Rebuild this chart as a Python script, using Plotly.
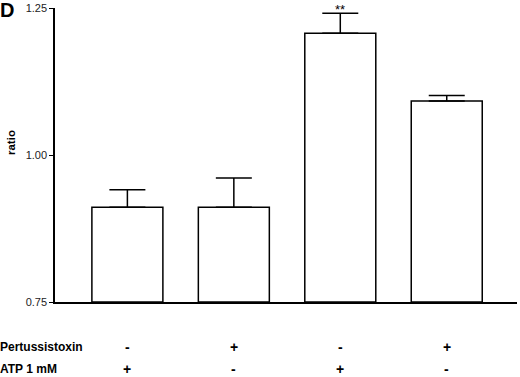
import plotly.graph_objects as go

groups = [0, 1, 2, 3]
ratio_mean = [0.911, 0.911, 1.207, 1.092]
ratio_sem = [0.030, 0.050, 0.034, 0.009]
pertussis = ["-", "+", "-", "+"]
atp = ["+", "-", "+", "-"]
ytick_vals = [0.75, 1.00, 1.25]
ytick_text = ["0.75", "1.00", "1.25"]
signif = ["", "", "**", ""]

FONT = "Liberation Sans, Arial, sans-serif"
PW, PH, L, T = 462, 294, 55, 8

def px(xpix):
    return (xpix - L) / PW

def py(ypix):
    return (T + PH - ypix) / PH

fig = go.Figure()
fig.add_trace(go.Bar(
    x=groups, y=[m - 0.75 for m in ratio_mean], base=0.75,
    width=0.667,
    marker=dict(color="white", line=dict(color="black", width=1.5)),
    error_y=dict(type="data", array=ratio_sem, arrayminus=[0]*4, symmetric=False,
                 color="black", thickness=1.5, width=18),
    hoverinfo="skip", showlegend=False,
))

annotations = []
for g, s in zip(groups, signif):
    if s:
        annotations.append(dict(x=g, y=py(0), xref="x", yref="paper", text=s, showarrow=False,
                                xanchor="center", yanchor="top",
                                font=dict(size=13, color="black", family=FONT)))
for g, p, a in zip(groups, pertussis, atp):
    annotations.append(dict(x=g, y=py(347), xref="x", yref="paper", text="<b>%s</b>" % p, showarrow=False,
                            xanchor="center", yanchor="middle",
                            font=dict(size=14, color="black", family=FONT)))
    annotations.append(dict(x=g, y=py(369), xref="x", yref="paper", text="<b>%s</b>" % a, showarrow=False,
                            xanchor="center", yanchor="middle",
                            font=dict(size=14, color="black", family=FONT)))
annotations.append(dict(x=px(-2), y=py(347), xref="paper", yref="paper", text="<b>Pertussistoxin</b>",
                        showarrow=False, xanchor="left", yanchor="middle",
                        font=dict(size=12, color="black", family=FONT)))
annotations.append(dict(x=px(-2), y=py(369), xref="paper", yref="paper", text="<b>ATP 1 mM</b>",
                        showarrow=False, xanchor="left", yanchor="middle",
                        font=dict(size=12, color="black", family=FONT)))
annotations.append(dict(x=px(11), y=py(143), xref="paper", yref="paper", text="<b>ratio</b>",
                        textangle=-90, showarrow=False, xanchor="center", yanchor="middle",
                        font=dict(size=11.5, color="black", family=FONT)))
annotations.append(dict(x=px(-2), y=py(10), xref="paper", yref="paper", text="<b>D</b>",
                        xanchor="left", yanchor="middle", showarrow=False,
                        font=dict(size=20, color="black", family=FONT)))

fig.update_layout(
    width=520, height=377,
    margin=dict(l=L, r=3, t=T, b=75),
    paper_bgcolor="white", plot_bgcolor="white",
    xaxis=dict(range=[-0.68, 3.66], showticklabels=False, ticks="", showgrid=False, zeroline=False,
               showline=True, linecolor="black", linewidth=1.5),
    yaxis=dict(range=[0.75, 1.25], tickvals=ytick_vals, ticktext=ytick_text, ticks="outside", ticklen=4,
               tickcolor="black", tickwidth=1.2, showgrid=False, zeroline=False,
               showline=True, linecolor="black", linewidth=1.5,
               tickfont=dict(size=11, color="#222", family=FONT)),
    annotations=annotations,
)

fig.write_html("out.html", config={"displayModeBar": False},
               post_script="document.body.style.margin='0';")
